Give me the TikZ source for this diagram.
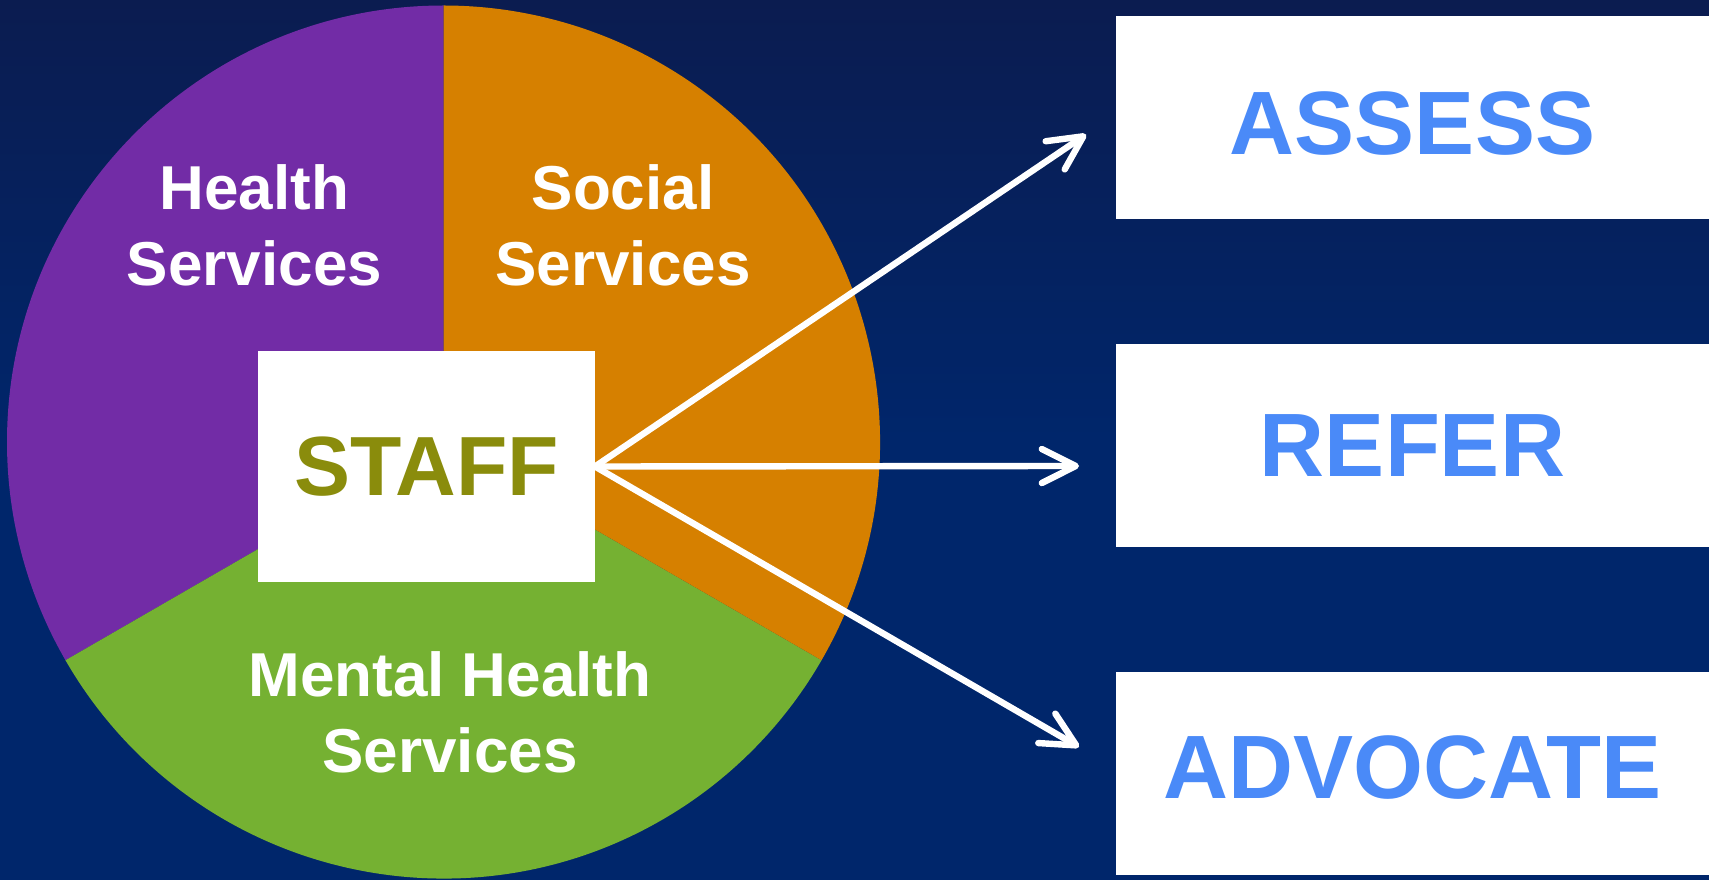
\documentclass[tikz,border=0pt]{standalone}
\usepackage{fontspec}
\setmainfont{Liberation Sans}
\usetikzlibrary{arrows.meta}
\definecolor{navytop}{HTML}{0B1C50}
\definecolor{navybot}{HTML}{00266B}
\definecolor{healthpurple}{HTML}{722CA6}
\definecolor{socialorange}{HTML}{D68000}
\definecolor{mentalgreen}{HTML}{75B132}
\definecolor{staffolive}{HTML}{8A8C0C}
\definecolor{taskblue}{HTML}{4A8AF8}
\begin{document}
\begin{tikzpicture}[
   x=0.5pt,y=0.5pt,
   slice/.style={fill=#1},
   pielabel/.style={text=white,align=center,font=\fontsize{31}{38}\selectfont\bfseries},
   staffbox/.style={fill=white,inner sep=0pt,outer sep=0pt,minimum width=168.5pt,minimum height=115.5pt,text=staffolive,font=\fontsize{42}{50}\selectfont\bfseries},
   task/.style={fill=white,inner sep=0pt,outer sep=0pt,minimum width=296.5pt,minimum height=101.5pt,text=taskblue,font=\fontsize{45}{54}\selectfont\bfseries},
   link/.style={-{Straight Barb[length=17pt,width=17pt,round]},line width=3.2pt,white}]
\useasboundingbox (0,0) rectangle (1709,879);
\shade[top color=navytop,bottom color=navybot,middle color=navybot] (0,0) rectangle (1709,879);
% pie of services
\coordinate (pie) at (443.5,437);
\fill[slice=healthpurple] (pie) -- ++(90:436.5) arc[start angle=90,end angle=210,radius=436.5] -- cycle;
\fill[slice=mentalgreen] (pie) -- ++(210:436.5) arc[start angle=210,end angle=330,radius=436.5] -- cycle;
\fill[slice=socialorange] (pie) -- ++(330:436.5) arc[start angle=330,end angle=450,radius=436.5] -- cycle;
\node[pielabel] (health) at (254.5,654) {Health\\Services};
\node[pielabel] (social) at (623,654) {Social\\Services};
\node[pielabel] (mental) at (450,167) {Mental Health\\Services};
\node[staffbox] (staff) at (426.5,412.5) {STAFF};
% tasks
\node[task,text height=37.7pt] (assess) at (1412.5,761.5) {ASSESS};
\node[task] (refer) at (1412.5,433.5) {REFER};
\node[task,text depth=6pt] (advocate) at (1412.5,105.5) {ADVOCATE};
\coordinate (toassess) at (1086,744.5);
\coordinate (torefer) at (1079,413);
\coordinate (toadvocate) at (1079,132);
\draw[link] (staff.east) -- (toassess);
\draw[link] (staff.east) -- (torefer);
\draw[link] (staff.east) -- (toadvocate);
\end{tikzpicture}
\end{document}
